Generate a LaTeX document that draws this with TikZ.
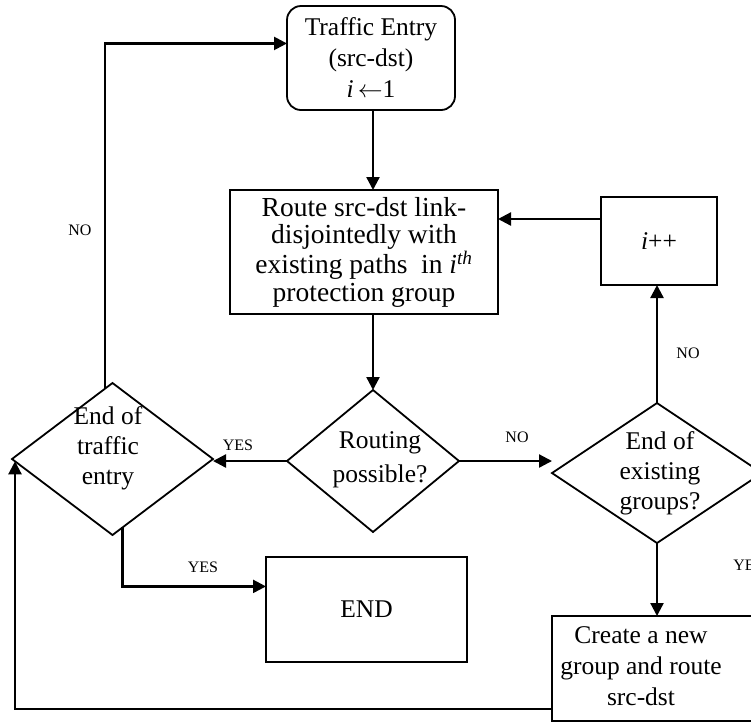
\documentclass[tikz,border=0pt]{standalone}
\usepackage{fontspec}
\setmainfont{Liberation Serif}
\usetikzlibrary{shapes.geometric,arrows.meta,calc}

\begin{document}
\begin{tikzpicture}[x=1pt,y=-1pt,
  box/.style={draw,line width=1.8pt,inner sep=0pt,outer sep=0pt,align=center,
    font=\fontsize{25.5}{31}\selectfont},
  dia/.style={draw,diamond,line width=1.8pt,inner sep=0pt,outer sep=0pt},
  txt/.style={inner sep=0pt,align=center,font=\fontsize{25.5}{30}\selectfont},
  arr/.style={line width=2.3pt,-{Triangle[length=13pt,width=13pt]}},
  lbl/.style={inner sep=0pt,font=\fontsize{16}{18}\selectfont}]

\useasboundingbox (0,0) rectangle (751,724);
\clip (0,0) rectangle (751,724);

% process boxes
\node[box,rounded corners=14pt,minimum width=168pt,minimum height=104pt] (te) at (371,58)
  {Traffic Entry\\(src-dst)\\\textit{i}\,$\leftarrow$1};
\node[box,minimum width=268pt,minimum height=124pt,
  font=\fontsize{27.5}{27.8}\selectfont] (rt) at (364,252)
  {Route src-dst link-\\disjointedly with\\existing paths\ \ in \textit{i}\textsuperscript{\textit{th}}\\protection group};
\node[box,minimum width=116pt,minimum height=88pt] (ip) at (659,241) {\textit{i}++};
\node[box,minimum width=201pt,minimum height=105pt] (en) at (366.5,609.5) {END};
\node[box,minimum width=223pt,minimum height=105pt] (cn) at (663.5,668.5) {};
\node[txt,font=\fontsize{25.5}{31}\selectfont] (cnt) at (641,666) {Create a new\\group and route\\src-dst};

% decisions
\node[dia,minimum width=201pt,minimum height=152pt] (et) at (112.5,459) {};
\node[txt] (ett) at (108,448) {End of\\traffic\\entry};
\node[dia,minimum width=172pt,minimum height=142pt] (rp) at (373,461) {};
\node[txt,font=\fontsize{25.5}{34}\selectfont] (rpt) at (380,460) {Routing\\possible?};
\node[dia,minimum width=210pt,minimum height=140pt] (ee) at (657,473) {};
\node[txt] (eet) at (660,473) {End of\\existing\\groups?};

% connector end points on node borders
\coordinate (tin) at ($(te.north west)!0.36!(te.south west)$);
\coordinate (etop) at ($(et.north)!0.075!(et.west)$);
\coordinate (elow) at ($(et.south)!0.1!(et.east)$);
\coordinate (ein) at ($(en.north west)!0.28!(en.south west)$);
\coordinate (ipo) at ($(ip.north west)!0.25!(ip.south west)$);
\coordinate (cout) at ($(cn.north west)!0.886!(cn.south west)$);
\coordinate (eleft) at ($(et.west)!0.03!(et.south)$);

% connectors
\draw[arr] (te.south -| rp.north) -- (rt.north -| rp.north);
\draw[arr] (rt.south -| rp.north) -- (rp.north);
\draw[arr] (ipo) -- (ipo -| rt.east);
\draw[arr] (rp.west) -- (rp.west -| et.east);
\draw[arr] (rp.east) -- (rp.east -| ee.west);
\draw[arr] (ee.north) -- (ee.north |- ip.south);
\draw[arr] (ee.south) -- (ee.south |- cn.north);
\draw[arr] (etop) |- (tin);
\draw[arr] (elow) |- (ein);
\draw[arr] (cout) -| (eleft);

% branch labels
\node[lbl] at (80,230) {NO};
\node[lbl] at (238,445) {YES};
\node[lbl] at (517,437) {NO};
\node[lbl] at (688,353) {NO};
\node[lbl] at (748.5,565) {YES};
\node[lbl] at (203,567) {YES};
\end{tikzpicture}
\end{document}
